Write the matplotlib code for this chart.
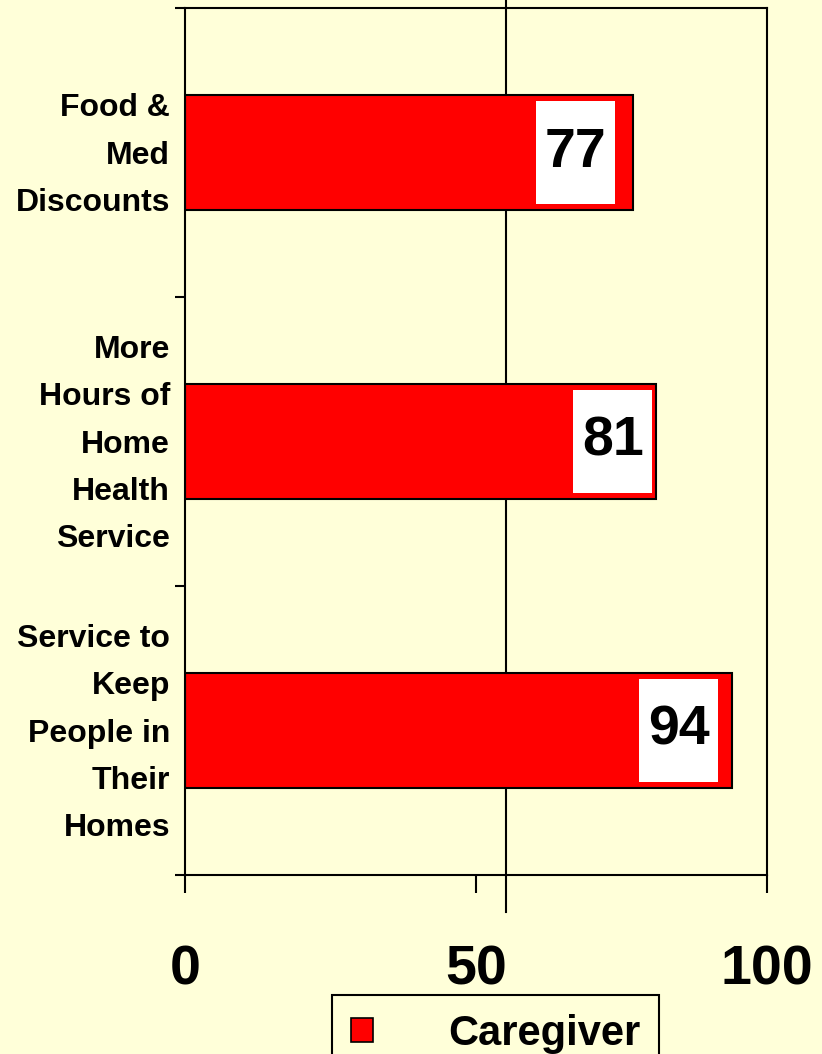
import matplotlib
matplotlib.use("Agg")
import matplotlib.pyplot as plt
from matplotlib.patches import Rectangle, Patch

# data
categories = ["Food &\nMed\nDiscounts",
              "More\nHours of\nHome\nHealth\nService",
              "Service to\nKeep\nPeople in\nTheir\nHomes"]
values = [77, 81, 94]
series_name = "Caregiver"
xticks = [0, 50, 100]
ref_line = 55.2

# styling
bg = "#FFFFD9"
label_dx = [9.9, 7.5, 9.2]   # label box offset left of bar end
box_w, box_h = 13.6, 0.355

plt.rcParams["font.family"] = ["Liberation Sans", "DejaVu Sans"]
plt.rcParams["font.weight"] = "bold"

fig = plt.figure(figsize=(8.22, 10.54), dpi=100)
fig.patch.set_facecolor(bg)
ax = fig.add_axes([185/822, 1-875/1054, (767-185)/822, (875-8)/1054])
ax.set_facecolor(bg)

ypos = list(range(len(categories)))
ax.barh(ypos, values, height=0.4, color="#FF0000", edgecolor="black",
        linewidth=1.5, zorder=2)

# white value boxes
for y, v, dx in zip(ypos, values, label_dx):
    cx = v - dx
    ax.add_patch(Rectangle((cx - box_w/2, y - box_h/2), box_w, box_h,
                           facecolor="white", edgecolor="none", zorder=3))
    ax.text(cx, y, str(v), ha="center", va="center", fontsize=40,
            fontweight="bold", zorder=4)

ax.axvline(ref_line, ymin=-0.043, ymax=1.01, color="black", lw=1.5,
           clip_on=False, zorder=1)

ax.set_xlim(0, 100)
ax.set_ylim(2.5, -0.5)

ax.set_xticks(xticks)
ax.set_xticklabels([str(t) for t in xticks], fontsize=40, fontweight="bold")
ax.tick_params(axis="x", direction="out", length=13, width=1.5, pad=37)

# boundary ticks on y axis, category names as text
ax.set_yticks([-0.5, 0.5, 1.5, 2.5])
ax.set_yticklabels([])
ax.tick_params(axis="y", which="major", direction="out", length=7.5, width=1.5)
for y, name in zip(ypos, categories):
    ax.annotate(name, xy=(0, y), xycoords=("axes fraction", "data"),
                xytext=(-15, -3), textcoords="offset pixels",
                ha="right", va="center", multialignment="right",
                fontsize=23, fontweight="bold", linespacing=1.76)

for s in ax.spines.values():
    s.set_linewidth(1.5)
    s.set_color("black")

handle = Patch(facecolor="#FF0000", edgecolor="black", linewidth=1.2)
leg = fig.legend([handle], [series_name], loc="upper left",
                 bbox_to_anchor=(332/822, 1-995/1054), fontsize=30,
                 frameon=True, fancybox=False, borderpad=0.45,
                 handlelength=0.53, handleheight=0.53, handletextpad=1.8,
                 borderaxespad=0)
leg.get_frame().set_facecolor(bg)
leg.get_frame().set_edgecolor("black")
leg.get_frame().set_linewidth(1.5)
leg.get_frame().set_alpha(1)
for t in leg.get_texts():
    t.set_fontweight("bold")

fig.savefig("out.png", dpi=100, facecolor=bg)
